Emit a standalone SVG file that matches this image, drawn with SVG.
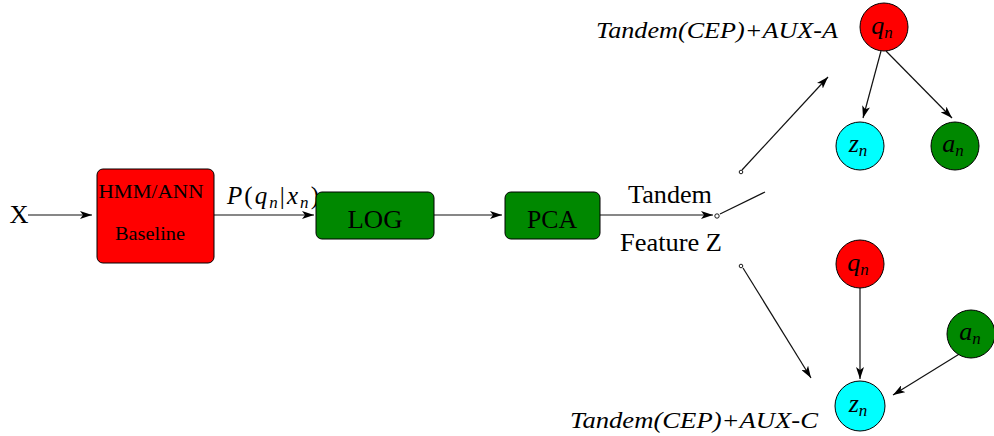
<svg xmlns="http://www.w3.org/2000/svg" width="994" height="436" viewBox="0 0 994 436">
  <style>
    text { font-family: "Liberation Serif", "Times New Roman", serif; fill: #000; }
    .box { stroke: #000; stroke-width: 1; }
    .red { fill: #ff0000; }
    .green { fill: #008800; }
    .cyan { fill: #00ffff; }
    .edge { stroke: #111; stroke-width: 1.2; fill: none; }
    .it { font-style: italic; }
    .lbl { font-size: 25px; text-anchor: middle; }
    .var { font-size: 26px; font-style: italic; text-anchor: middle; }
    .sub { font-size: 17px; }
    .tiny { fill: #fff; stroke: #000; stroke-width: 0.9; }
  </style>
  <defs>
    <marker id="arr" viewBox="0 0 12 8" refX="12" refY="4" markerWidth="12" markerHeight="8" markerUnits="userSpaceOnUse" orient="auto">
      <path d="M0,0 L12,4 L0,8 L3,4 z" fill="#000"/>
    </marker>
  </defs>

  <!-- connectors -->
  <g id="connectors">
    <line class="edge" x1="28" y1="215" x2="92" y2="215" marker-end="url(#arr)"/>
    <line class="edge" x1="214" y1="215" x2="314" y2="215" marker-end="url(#arr)"/>
    <line class="edge" x1="434" y1="215" x2="502" y2="215" marker-end="url(#arr)"/>
    <line class="edge" x1="600" y1="215" x2="713" y2="215" marker-end="url(#arr)"/>
    <!-- switch arm -->
    <line class="edge" x1="720" y1="214" x2="765" y2="192"/>
    <line class="edge" x1="742" y1="170" x2="828" y2="77" marker-end="url(#arr)"/>
    <line class="edge" x1="743" y1="268" x2="811" y2="378" marker-end="url(#arr)"/>
    <!-- top model -->
    <line class="edge" x1="881" y1="51" x2="863" y2="118" marker-end="url(#arr)"/>
    <line class="edge" x1="886" y1="51" x2="952" y2="118" marker-end="url(#arr)"/>
    <!-- bottom model -->
    <line class="edge" x1="860" y1="288" x2="860" y2="379" marker-end="url(#arr)"/>
    <line class="edge" x1="961" y1="353" x2="893" y2="395" marker-end="url(#arr)"/>
  </g>

  <!-- switch contacts -->
  <g id="switch">
    <circle class="tiny" cx="717" cy="216" r="2.2"/>
    <circle class="tiny" cx="741" cy="172" r="1.8"/>
    <circle class="tiny" cx="741" cy="266" r="1.8"/>
  </g>

  <g id="input">
    <text x="19" y="223" font-size="26" text-anchor="middle" textLength="19" lengthAdjust="spacingAndGlyphs">X</text>
  </g>

  <g id="baseline">
    <rect class="box red" x="97" y="169" width="117" height="94" rx="6"/>
    <text x="151" y="198" font-size="19" text-anchor="middle" textLength="105" lengthAdjust="spacingAndGlyphs">HMM/ANN</text>
    <text x="150" y="240" font-size="19" text-anchor="middle" textLength="70" lengthAdjust="spacingAndGlyphs">Baseline</text>
  </g>

  <g id="posterior-label">
    <text x="227" y="204" font-size="25" class="it" textLength="92" lengthAdjust="spacing">P<tspan font-style="normal">(</tspan>q<tspan class="sub" dy="4">n</tspan><tspan dy="-4" font-style="normal">|</tspan>x<tspan class="sub" dy="4">n</tspan><tspan dy="-4" font-style="normal">)</tspan></text>
  </g>

  <g id="log">
    <rect class="box green" x="316" y="192" width="118" height="47" rx="6"/>
    <text class="lbl" x="375" y="228" font-size="26" textLength="55" lengthAdjust="spacingAndGlyphs">LOG</text>
  </g>

  <g id="pca">
    <rect class="box green" x="505" y="192" width="95" height="47" rx="6"/>
    <text class="lbl" x="552" y="228" font-size="26" textLength="50" lengthAdjust="spacingAndGlyphs">PCA</text>
  </g>

  <g id="tandem-label">
    <text class="lbl" x="670" y="203" textLength="84" lengthAdjust="spacingAndGlyphs">Tandem</text>
    <text class="lbl" x="671" y="251" textLength="102" lengthAdjust="spacingAndGlyphs">Feature Z</text>
  </g>

  <!-- AUX-A model -->
  <g id="aux-a-label">
    <text x="717" y="38" font-size="24" class="it" text-anchor="middle" textLength="242" lengthAdjust="spacingAndGlyphs">Tandem(CEP)+AUX-A</text>
  </g>
  <g id="a-q">
    <circle class="box red" cx="884" cy="27" r="24"/>
    <text class="var" x="882" y="34">q<tspan class="sub" dy="4">n</tspan></text>
  </g>
  <g id="a-z">
    <circle class="box cyan" cx="860" cy="146" r="24"/>
    <text class="var" x="858" y="152">z<tspan class="sub" dy="4">n</tspan></text>
  </g>
  <g id="a-a">
    <circle class="box green" cx="955" cy="146" r="24"/>
    <text class="var" x="953" y="152">a<tspan class="sub" dy="4">n</tspan></text>
  </g>

  <!-- AUX-C model -->
  <g id="aux-c-label">
    <text x="694" y="428" font-size="24" class="it" text-anchor="middle" textLength="248" lengthAdjust="spacingAndGlyphs">Tandem(CEP)+AUX-C</text>
  </g>
  <g id="c-q">
    <circle class="box red" cx="860" cy="264" r="24"/>
    <text class="var" x="858" y="271">q<tspan class="sub" dy="4">n</tspan></text>
  </g>
  <g id="c-z">
    <circle class="box cyan" cx="860" cy="406" r="25"/>
    <text class="var" x="858" y="412">z<tspan class="sub" dy="4">n</tspan></text>
  </g>
  <g id="c-a">
    <circle class="box green" cx="971" cy="334" r="24"/>
    <text class="var" x="970" y="340">a<tspan class="sub" dy="4">n</tspan></text>
  </g>
</svg>
